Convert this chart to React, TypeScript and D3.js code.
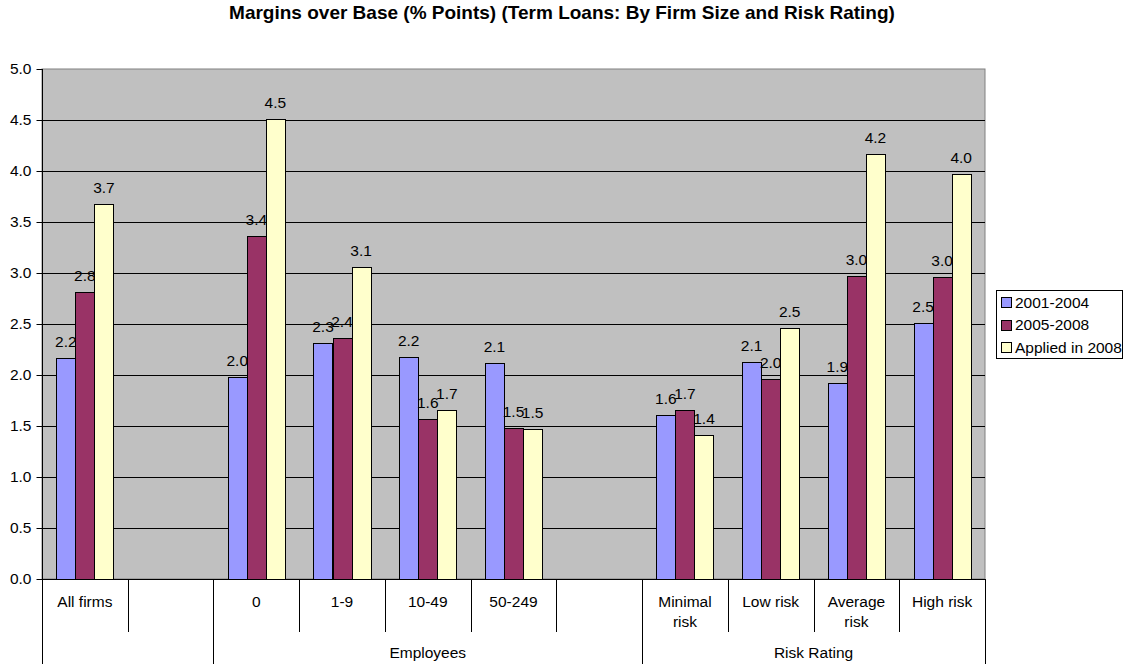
import * as d3 from "d3";
import React from "react";

const categories = [
  "All firms",
  "",
  "0",
  "1-9",
  "10-49",
  "50-249",
  "",
  "Minimal\nrisk",
  "Low risk",
  "Average\nrisk",
  "High risk",
];

const seriesNames = ["2001-2004", "2005-2008", "Applied in 2008"];
const seriesColors = ["#9999FF", "#993366", "#FFFFCC"];

const values2001 = [2.17, null, 1.98, 2.31, 2.18, 2.12, null, 1.61, 2.13, 1.92, 2.51];
const values2005 = [2.81, null, 3.36, 2.36, 1.57, 1.48, null, 1.66, 1.96, 2.97, 2.96];
const valuesApplied = [3.68, null, 4.51, 3.06, 1.66, 1.47, null, 1.41, 2.46, 4.17, 3.97];

const groupLabels = ["", "Employees", "Risk Rating"];
const groupStarts = [0, 2, 7];
const groupEnds = [2, 7, 11];

const yTicks = [0, 0.5, 1, 1.5, 2, 2.5, 3, 3.5, 4, 4.5, 5];

const FONT = "'Liberation Sans', Arial, sans-serif";
const FS = 15.5;

export default function App() {
  const ref = React.useRef<SVGSVGElement>(null);

  React.useEffect(() => {
    if (!ref.current) return;
    const svg = d3.select(ref.current);
    svg.selectAll("*").remove();

    const left = 42;
    const right = 985;
    const top = 69;
    const bottom = 579;

    const x = d3
      .scaleBand<number>()
      .domain(categories.map((_, i) => i))
      .range([left, right])
      .padding(0);
    const bw = x.bandwidth();

    const inner = d3
      .scaleBand<number>()
      .domain([0, 1, 2])
      .range([bw / 6, (bw * 5) / 6])
      .padding(0);

    const y = d3.scaleLinear().domain([0, 5]).range([bottom, top]);

    // title
    svg
      .append("text")
      .attr("x", 562)
      .attr("y", 19)
      .attr("text-anchor", "middle")
      .attr("font-family", FONT)
      .attr("font-size", 19)
      .attr("font-weight", "bold")
      .text("Margins over Base (% Points) (Term Loans: By Firm Size and Risk Rating)");

    // plot area
    svg
      .append("rect")
      .attr("x", left)
      .attr("y", top)
      .attr("width", right - left)
      .attr("height", bottom - top)
      .attr("fill", "#C0C0C0")
      .attr("stroke", "#808080")
      .attr("stroke-width", 1);

    // gridlines
    svg
      .append("g")
      .selectAll("line")
      .data(yTicks.filter((t) => t > 0 && t < 5))
      .enter()
      .append("line")
      .attr("x1", left)
      .attr("x2", right)
      .attr("y1", (d) => Math.round(y(d)) + 0.5)
      .attr("y2", (d) => Math.round(y(d)) + 0.5)
      .attr("stroke", "#000")
      .attr("stroke-width", 1);

    // y axis
    const yAxis = svg
      .append("g")
      .attr("transform", `translate(${left + 0.5},0)`)
      .call(
        d3
          .axisLeft(y)
          .tickValues(yTicks)
          .tickSize(6)
          .tickPadding(5)
          .tickFormat(d3.format(".1f"))
      );
    yAxis.select(".domain").attr("stroke", "#000").attr("d", `M0,${top}V${bottom}`);
    yAxis
      .selectAll("text")
      .attr("font-family", FONT)
      .attr("font-size", FS)
      .attr("fill", "#000");
    yAxis.selectAll("line").attr("stroke", "#000");

    // bars
    const allSeries = [values2001, values2005, valuesApplied];
    const fmt = d3.format(".1f");
    allSeries.forEach((vals, s) => {
      const g = svg.append("g");
      const pts = vals
        .map((v, i) => ({ v, i }))
        .filter((d) => d.v !== null) as { v: number; i: number }[];
      g.selectAll("rect")
        .data(pts)
        .enter()
        .append("rect")
        .attr("x", (d) => Math.round((x(d.i) || 0) + (inner(s) || 0)) + 0.5)
        .attr("y", (d) => Math.round(y(d.v)) + 0.5)
        .attr("width", Math.round(inner.bandwidth()))
        .attr("height", (d) => bottom - Math.round(y(d.v)))
        .attr("fill", seriesColors[s])
        .attr("stroke", "#000")
        .attr("stroke-width", 1);
      g.selectAll("text")
        .data(pts)
        .enter()
        .append("text")
        .attr("x", (d) => (x(d.i) || 0) + (inner(s) || 0) + inner.bandwidth() / 2)
        .attr("y", (d) => y(d.v) - 11)
        .attr("text-anchor", "middle")
        .attr("font-family", FONT)
        .attr("font-size", FS)
        .attr("fill", "#000")
        .text((d) => fmt(d.v));
    });

    // x axis baseline
    svg
      .append("line")
      .attr("x1", left)
      .attr("x2", right)
      .attr("y1", bottom + 0.5)
      .attr("y2", bottom + 0.5)
      .attr("stroke", "#000");

    // category separators (short)
    const catG = svg.append("g");
    catG
      .selectAll("line")
      .data(d3.range(categories.length + 1))
      .enter()
      .append("line")
      .attr("x1", (i) => Math.round(left + i * bw) + 0.5)
      .attr("x2", (i) => Math.round(left + i * bw) + 0.5)
      .attr("y1", bottom)
      .attr("y2", 632)
      .attr("stroke", "#000");

    // category labels
    categories.forEach((c, i) => {
      if (!c) return;
      const lines = c.split("\n");
      const t = catG
        .append("text")
        .attr("x", (x(i) || 0) + bw / 2)
        .attr("y", 607)
        .attr("text-anchor", "middle")
        .attr("font-family", FONT)
        .attr("font-size", FS)
        .attr("fill", "#000");
      lines.forEach((ln, k) => {
        t.append("tspan")
          .attr("x", (x(i) || 0) + bw / 2)
          .attr("dy", k === 0 ? 0 : 20)
          .text(ln);
      });
    });

    // group separators (long) and labels
    const grpG = svg.append("g");
    const bounds = Array.from(new Set([...groupStarts, ...groupEnds]));
    grpG
      .selectAll("line")
      .data(bounds)
      .enter()
      .append("line")
      .attr("x1", (i) => Math.round(left + i * bw) + 0.5)
      .attr("x2", (i) => Math.round(left + i * bw) + 0.5)
      .attr("y1", 632)
      .attr("y2", 664)
      .attr("stroke", "#000");
    groupLabels.forEach((lab, gi) => {
      if (!lab) return;
      grpG
        .append("text")
        .attr("x", left + ((groupStarts[gi] + groupEnds[gi]) / 2) * bw)
        .attr("y", 658)
        .attr("text-anchor", "middle")
        .attr("font-family", FONT)
        .attr("font-size", FS)
        .attr("fill", "#000")
        .text(lab);
    });

    // legend
    const lg = svg.append("g");
    lg.append("rect")
      .attr("x", 996.5)
      .attr("y", 290.5)
      .attr("width", 126)
      .attr("height", 68)
      .attr("fill", "#fff")
      .attr("stroke", "#000");
    seriesNames.forEach((n, s) => {
      const cy = 302 + s * 22.5;
      lg.append("rect")
        .attr("x", 1001.5)
        .attr("y", Math.round(cy - 5) + 0.5)
        .attr("width", 10)
        .attr("height", 10)
        .attr("fill", seriesColors[s])
        .attr("stroke", "#000");
      lg.append("text")
        .attr("x", 1015)
        .attr("y", cy + 5.5)
        .attr("font-family", FONT)
        .attr("font-size", FS)
        .attr("fill", "#000")
        .text(n);
    });
  }, []);

  return (
    <div style={{ position: "absolute", left: 0, top: 0, width: 1124, height: 664, background: "#fff" }}>
      <svg ref={ref} width={1124} height={664} style={{ display: "block" }} />
    </div>
  );
}
